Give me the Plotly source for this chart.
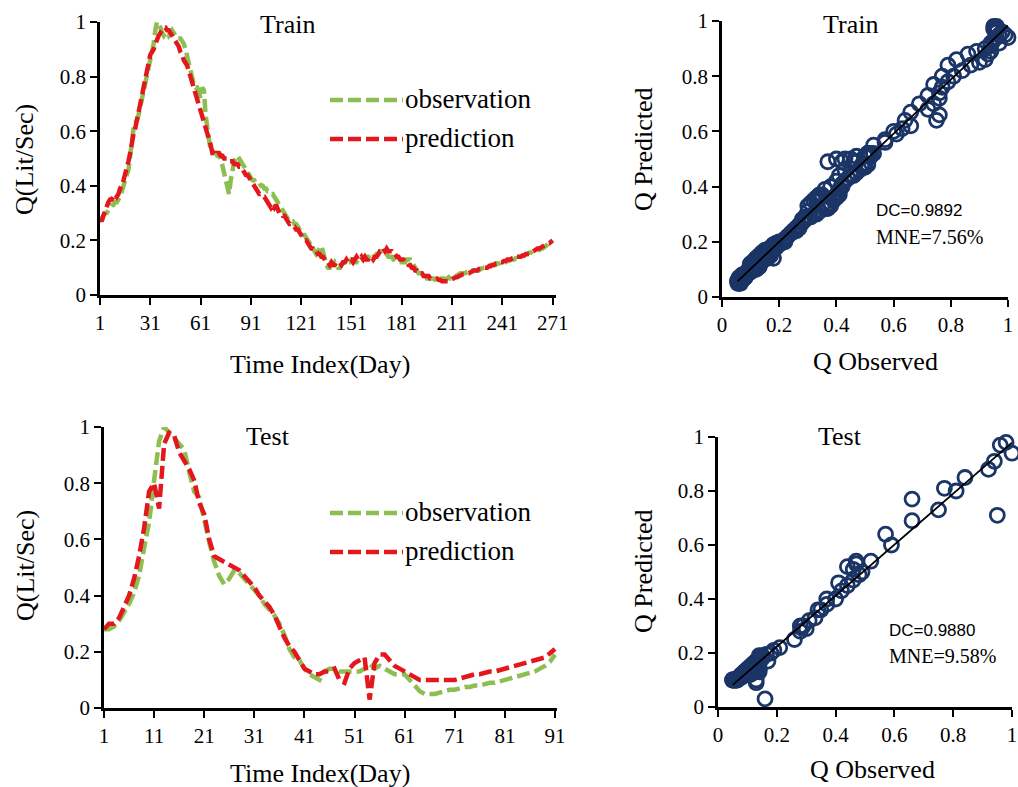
import numpy as np
import plotly.graph_objects as go

# ---------------- DATA ----------------
train_obs = [
    0.28, 0.28, 0.29, 0.30, 0.30, 0.31, 0.32, 0.33, 0.33, 0.34,
    0.34, 0.35, 0.36, 0.38, 0.40, 0.41, 0.43, 0.46, 0.51, 0.57,
    0.61, 0.63, 0.64, 0.66, 0.69, 0.72, 0.74, 0.77, 0.79, 0.82,
    0.86, 0.89, 0.92, 0.97, 1.00, 0.99, 0.98, 0.96, 0.95, 0.96,
    0.96, 0.95, 0.96, 0.97, 0.96, 0.95, 0.94, 0.94, 0.94, 0.93,
    0.92, 0.90, 0.87, 0.84, 0.81, 0.79, 0.77, 0.76, 0.76, 0.74,
    0.72, 0.76, 0.75, 0.66, 0.60, 0.57, 0.53, 0.53, 0.52, 0.52,
    0.51, 0.51, 0.50, 0.47, 0.45, 0.43, 0.40, 0.37, 0.42, 0.47,
    0.49, 0.50, 0.51, 0.50, 0.49, 0.48, 0.47, 0.46, 0.45, 0.44,
    0.43, 0.42, 0.42, 0.41, 0.41, 0.41, 0.40, 0.40, 0.39, 0.39,
    0.38, 0.38, 0.37, 0.37, 0.36, 0.35, 0.34, 0.33, 0.32, 0.31,
    0.30, 0.29, 0.28, 0.27, 0.27, 0.27, 0.26, 0.26, 0.25, 0.24,
    0.23, 0.22, 0.22, 0.21, 0.20, 0.19, 0.18, 0.17, 0.16, 0.15,
    0.16, 0.17, 0.18, 0.16, 0.13, 0.11, 0.10, 0.10, 0.11, 0.11,
    0.12, 0.11, 0.10, 0.10, 0.11, 0.12, 0.12, 0.11, 0.12, 0.12,
    0.13, 0.13, 0.12, 0.12, 0.13, 0.14, 0.14, 0.13, 0.13, 0.14,
    0.14, 0.13, 0.13, 0.14, 0.14, 0.15, 0.15, 0.16, 0.16, 0.16,
    0.15, 0.15, 0.14, 0.14, 0.14, 0.13, 0.13, 0.12, 0.12, 0.12,
    0.12, 0.12, 0.12, 0.13, 0.13, 0.13, 0.12, 0.11, 0.10, 0.09,
    0.08, 0.08, 0.07, 0.07, 0.07, 0.06, 0.06, 0.06, 0.06, 0.06,
    0.055, 0.055, 0.055, 0.06, 0.06, 0.06, 0.055, 0.06, 0.065, 0.06,
    0.06, 0.065, 0.07, 0.075, 0.08, 0.08, 0.08, 0.08, 0.08, 0.085,
    0.085, 0.085, 0.09, 0.09, 0.09, 0.09, 0.09, 0.095, 0.10, 0.10,
    0.10, 0.105, 0.105, 0.11, 0.11, 0.11, 0.11, 0.115, 0.115, 0.12,
    0.12, 0.12, 0.12, 0.125, 0.125, 0.13, 0.13, 0.13, 0.135, 0.135,
    0.14, 0.14, 0.145, 0.145, 0.15, 0.15, 0.155, 0.155, 0.16, 0.16,
    0.16, 0.165, 0.165, 0.17, 0.17, 0.175, 0.18, 0.18, 0.185, 0.19, 0.20,
]
train_pred = [
    0.28, 0.27, 0.29, 0.31, 0.33, 0.34, 0.35, 0.35, 0.36, 0.37,
    0.36, 0.37, 0.39, 0.40, 0.42, 0.44, 0.46, 0.49, 0.52, 0.56,
    0.59, 0.61, 0.64, 0.67, 0.70, 0.73, 0.77, 0.80, 0.84, 0.86,
    0.88, 0.89, 0.90, 0.92, 0.94, 0.95, 0.96, 0.97, 0.98, 0.98,
    0.97, 0.97, 0.96, 0.95, 0.94, 0.93, 0.92, 0.91, 0.89, 0.88,
    0.86, 0.85, 0.84, 0.82, 0.80, 0.78, 0.76, 0.74, 0.72, 0.70,
    0.68, 0.66, 0.64, 0.62, 0.60, 0.57, 0.55, 0.52, 0.52, 0.51,
    0.52, 0.52, 0.51, 0.51, 0.50, 0.50, 0.50, 0.49, 0.49, 0.49,
    0.48, 0.48, 0.48, 0.47, 0.47, 0.46, 0.45, 0.44, 0.44, 0.43,
    0.42, 0.41, 0.40, 0.39, 0.38, 0.37, 0.37, 0.36, 0.36, 0.35,
    0.34, 0.33, 0.32, 0.33, 0.32, 0.33, 0.31, 0.30, 0.30, 0.29,
    0.29, 0.28, 0.27, 0.26, 0.26, 0.25, 0.25, 0.24, 0.24, 0.23,
    0.22, 0.21, 0.20, 0.20, 0.19, 0.18, 0.17, 0.17, 0.16, 0.16,
    0.15, 0.15, 0.14, 0.14, 0.13, 0.12, 0.12, 0.11, 0.12, 0.11,
    0.11, 0.12, 0.12, 0.12, 0.11, 0.12, 0.12, 0.13, 0.12, 0.13,
    0.13, 0.12, 0.13, 0.14, 0.13, 0.13, 0.14, 0.13, 0.14, 0.13,
    0.13, 0.14, 0.14, 0.13, 0.14, 0.14, 0.15, 0.16, 0.16, 0.17,
    0.16, 0.17, 0.16, 0.16, 0.16, 0.15, 0.15, 0.14, 0.14, 0.13,
    0.13, 0.13, 0.12, 0.12, 0.11, 0.11, 0.10, 0.10, 0.09, 0.09,
    0.08, 0.08, 0.08, 0.07, 0.07, 0.07, 0.07, 0.06, 0.06, 0.06,
    0.06, 0.06, 0.055, 0.055, 0.05, 0.05, 0.05, 0.05, 0.05, 0.055,
    0.06, 0.06, 0.065, 0.065, 0.07, 0.07, 0.075, 0.075, 0.08, 0.08,
    0.08, 0.085, 0.085, 0.09, 0.09, 0.09, 0.095, 0.095, 0.095, 0.10,
    0.10, 0.10, 0.105, 0.105, 0.11, 0.11, 0.115, 0.115, 0.12, 0.12,
    0.12, 0.125, 0.125, 0.13, 0.13, 0.13, 0.135, 0.135, 0.14, 0.14,
    0.14, 0.14, 0.145, 0.145, 0.15, 0.15, 0.15, 0.155, 0.16, 0.16,
    0.165, 0.17, 0.17, 0.175, 0.18, 0.18, 0.185, 0.19, 0.19, 0.195, 0.20,
]
test_obs = [
    0.28, 0.28, 0.29, 0.31, 0.34, 0.37, 0.41, 0.47, 0.57, 0.66,
    0.81, 0.95, 1.00, 0.98, 0.96, 0.94, 0.92, 0.84, 0.77, 0.75,
    0.66, 0.59, 0.52, 0.47, 0.44, 0.46, 0.49, 0.48, 0.46, 0.44,
    0.42, 0.40, 0.37, 0.35, 0.33, 0.30, 0.26, 0.21, 0.18, 0.17,
    0.14, 0.12, 0.11, 0.10, 0.13, 0.14, 0.14, 0.13, 0.13, 0.13,
    0.13, 0.13, 0.14, 0.16, 0.14, 0.15, 0.14, 0.13, 0.12, 0.12,
    0.12, 0.10, 0.08, 0.06, 0.05, 0.05, 0.05, 0.055, 0.06, 0.065,
    0.065, 0.07, 0.075, 0.075, 0.08, 0.08, 0.085, 0.09, 0.09, 0.095,
    0.10, 0.105, 0.11, 0.115, 0.12, 0.125, 0.13, 0.14, 0.15, 0.165,
    0.19,
]
test_pred = [
    0.28, 0.30, 0.30, 0.32, 0.36, 0.40, 0.46, 0.54, 0.64, 0.77,
    0.80, 0.71, 0.94, 0.98, 0.97, 0.91, 0.88, 0.85, 0.81, 0.73,
    0.69, 0.60, 0.54, 0.53, 0.52, 0.51, 0.50, 0.49, 0.47, 0.45,
    0.43, 0.40, 0.38, 0.36, 0.33, 0.29, 0.25, 0.22, 0.20, 0.17,
    0.14, 0.13, 0.12, 0.12, 0.13, 0.13, 0.14, 0.10, 0.09, 0.14,
    0.16, 0.17, 0.18, 0.03, 0.16, 0.19, 0.19, 0.17, 0.15, 0.14,
    0.13, 0.12, 0.11, 0.10, 0.10, 0.10, 0.10, 0.10, 0.10, 0.10,
    0.10, 0.105, 0.11, 0.115, 0.12, 0.12, 0.125, 0.13, 0.13, 0.135,
    0.14, 0.145, 0.15, 0.155, 0.16, 0.165, 0.17, 0.175, 0.18, 0.195,
    0.21,
]
train_xticks = [1, 31, 61, 91, 121, 151, 181, 211, 241, 271]
test_xticks = [1, 11, 21, 31, 41, 51, 61, 71, 81, 91]
q_ticks = [0, 0.2, 0.4, 0.6, 0.8, 1]
train_stats = ["DC=0.9892", "MNE=7.56%"]
test_stats = ["DC=0.9880", "MNE=9.58%"]
series_names = ["observation", "prediction"]

assert len(train_obs) == len(train_pred) == 271, (len(train_obs), len(train_pred))
assert len(test_obs) == len(test_pred) == 91, (len(test_obs), len(test_pred))

# ---------------- STYLE ----------------
W, H = 1018, 787
GREEN = "#8DBE52"
RED = "#E3171C"
NAVY = "#1B3566"
SERIF = "Liberation Serif"
SANS = "Liberation Sans"


def px(x):
    return x / W


def py(y):
    return 1 - y / H


fig = go.Figure()

train_days = list(range(1, len(train_obs) + 1))
test_days = list(range(1, len(test_obs) + 1))

dash = "13px,5px"
LW = 4.5
fig.add_trace(go.Scatter(x=train_days, y=train_obs, mode="lines", name=series_names[0],
                         line=dict(color=GREEN, width=LW, dash=dash), xaxis="x", yaxis="y", showlegend=False))
fig.add_trace(go.Scatter(x=train_days, y=train_pred, mode="lines", name=series_names[1],
                         line=dict(color=RED, width=LW, dash=dash), xaxis="x", yaxis="y", showlegend=False))
fig.add_trace(go.Scatter(x=test_days, y=test_obs, mode="lines", name=series_names[0],
                         line=dict(color=GREEN, width=LW, dash=dash), xaxis="x3", yaxis="y3", showlegend=False))
fig.add_trace(go.Scatter(x=test_days, y=test_pred, mode="lines", name=series_names[1],
                         line=dict(color=RED, width=LW, dash=dash), xaxis="x3", yaxis="y3", showlegend=False))


def add_scatter(obs, pred, xa, ya):
    o = np.array(obs)
    p = np.array(pred)
    fig.add_trace(go.Scatter(x=o, y=p, mode="markers", xaxis=xa, yaxis=ya, showlegend=False,
                             cliponaxis=False,
                             marker=dict(symbol="circle-open", size=14, color=NAVY,
                                         line=dict(width=2.8, color=NAVY))))
    k, b = np.polyfit(o, p, 1)
    xs = np.array([o.min(), o.max()])
    fig.add_trace(go.Scatter(x=xs, y=k * xs + b, mode="lines", xaxis=xa, yaxis=ya, showlegend=False,
                             line=dict(color="black", width=1.8)))


add_scatter(train_obs, train_pred, "x2", "y2")
add_scatter(test_obs, test_pred, "x4", "y4")

tickfont = dict(family=SERIF, size=21, color="black")
axis_common = dict(showline=True, linecolor="black", linewidth=2.5, ticks="outside", ticklen=7,
                   tickwidth=2, tickcolor="black", showgrid=False, zeroline=False, tickfont=tickfont,
                   mirror=False, automargin=False)

fig.update_layout(
    xaxis=dict(domain=[px(100), px(556)], range=[1, 273], tickvals=train_xticks,
               ticktext=[str(t) for t in train_xticks], anchor="y", **axis_common),
    yaxis=dict(domain=[py(295), py(22)], range=[0, 1], tickvals=q_ticks, anchor="x", **axis_common),
    xaxis2=dict(domain=[px(722), px(1008)], range=[0, 1], tickvals=q_ticks, anchor="y2", **axis_common),
    yaxis2=dict(domain=[py(297), py(21)], range=[0, 1], tickvals=q_ticks, anchor="x2", **axis_common),
    xaxis3=dict(domain=[px(104), px(557)], range=[1, 91.4], tickvals=test_xticks,
                ticktext=[str(t) for t in test_xticks], anchor="y3", **axis_common),
    yaxis3=dict(domain=[py(708), py(427)], range=[0, 1], tickvals=q_ticks, anchor="x3", **axis_common),
    xaxis4=dict(domain=[px(718), px(1012)], range=[0, 1], tickvals=q_ticks, anchor="y4", **axis_common),
    yaxis4=dict(domain=[py(707), py(437)], range=[0, 1], tickvals=q_ticks, anchor="x4", **axis_common),
)

ann = []


def text(x, y, s, size=26, family=SERIF, xanchor="center", angle=0):
    ann.append(dict(x=px(x), y=py(y), xref="paper", yref="paper", text=s, showarrow=False,
                    xanchor=xanchor, yanchor="middle", textangle=angle, borderpad=0,
                    font=dict(family=family, size=size, color="black")))


# axis titles
text(25, 160, "Q(Lit/Sec)", angle=-90)
text(25, 566, "Q(Lit/Sec)", angle=-90)
text(643, 150, "Q Predicted", angle=-90)
text(643, 572, "Q Predicted", angle=-90)
text(320, 364, "Time Index(Day)")
text(320, 773, "Time Index(Day)")
text(875, 361, "Q Observed")
text(872, 769, "Q Observed")
# panel titles
text(287, 25, "Train")
text(850, 25, "Train")
text(268, 436, "Test")
text(840, 436, "Test")
# statistics
text(875, 211, train_stats[0], size=17, family=SANS, xanchor="left")
text(875, 237, train_stats[1], size=20, family=SERIF, xanchor="left")
text(888, 630, test_stats[0], size=17, family=SANS, xanchor="left")
text(888, 656, test_stats[1], size=20, family=SERIF, xanchor="left")

# custom legends
shapes = []
for (y_obs, y_pred) in [(100, 139), (513, 552)]:
    for yy, col, name in [(y_obs, GREEN, series_names[0]), (y_pred, RED, series_names[1])]:
        shapes.append(dict(type="line", xref="paper", yref="paper", x0=px(330), x1=px(403),
                           y0=py(yy), y1=py(yy), line=dict(color=col, width=LW, dash=dash)))
        text(404, yy - 1, name, size=27, xanchor="left")

fig.update_layout(
    template="none",
    width=W, height=H, margin=dict(l=0, r=0, t=0, b=0, autoexpand=False),
    paper_bgcolor="white", plot_bgcolor="white",
    font=dict(family=SERIF, color="black"),
    annotations=ann, shapes=shapes,
)

fig.write_html("out.html")
